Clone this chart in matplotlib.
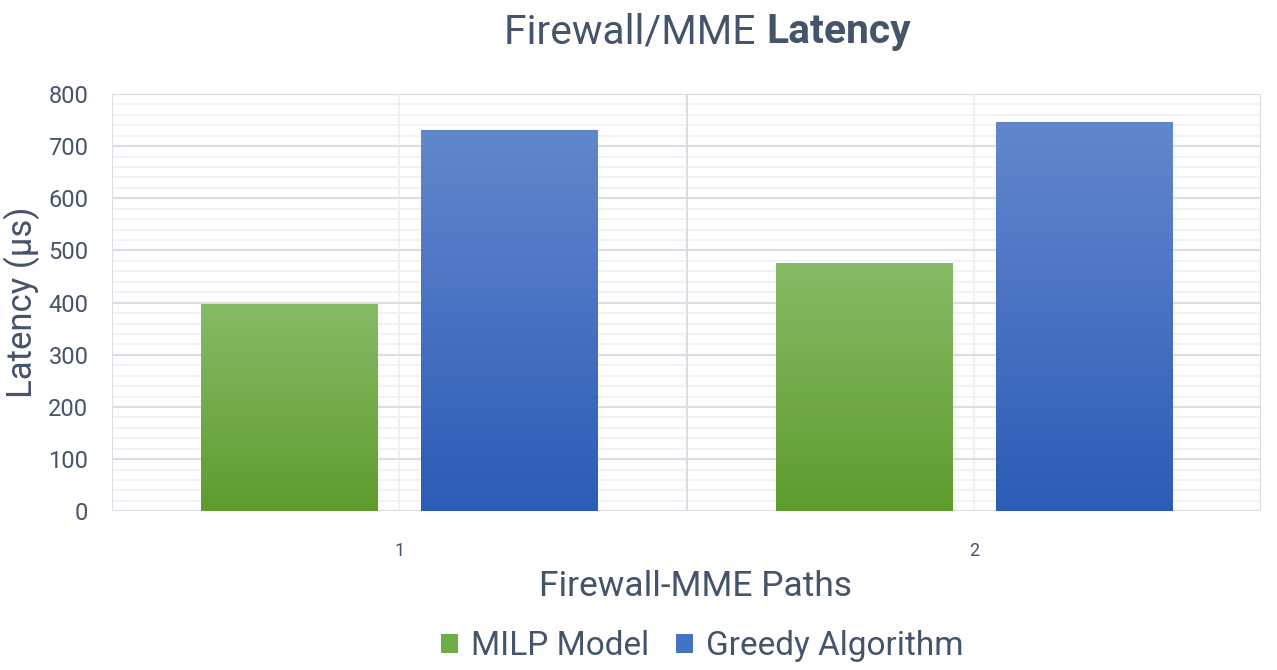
import matplotlib
matplotlib.use("Agg")
import matplotlib.pyplot as plt
import numpy as np
from matplotlib.colors import LinearSegmentedColormap
from matplotlib.patches import Patch

categories = ["1", "2"]
series_names = ["MILP Model", "Greedy Algorithm"]
milp_values = [397, 476]
greedy_values = [731, 746]
y_ticks = [0, 100, 200, 300, 400, 500, 600, 700, 800]

TXT = "#44546a"
MAJ = "#dadee4"
MIN = "#f0f1f3"
FONT = ["Roboto", "DejaVu Sans"]
plt.rcParams["font.family"] = FONT

fig = plt.figure(figsize=(12.77, 6.70), dpi=100)
ax = fig.add_axes([0.0877, 0.2369, 0.9875 - 0.0877, 0.8597 - 0.2369])

x = np.arange(1, len(categories) + 1)
width = 0.308
offsets = [-0.1906, 0.1923]
grads = [("#87bb66", "#5e9c2e"), ("#6387cd", "#2c5cb6")]

ax.set_xlim(0.5, len(categories) + 0.5)
ax.set_ylim(0, 800)

# gridlines
for yv in np.arange(20, 800, 20):
    if yv % 100 != 0:
        ax.axhline(yv, color=MIN, lw=1.3, zorder=0)
for yv in y_ticks:
    ax.axhline(yv, color=MAJ, lw=1.5, zorder=0.5)
for xv in x:
    ax.axvline(xv, color=MIN, lw=1.5, zorder=0)
for xv in np.arange(0.5, len(categories) + 1, 1.0):
    ax.axvline(xv, color=MAJ, lw=1.5, zorder=0.5)

for vals, off, (ctop, cbot), name in zip([milp_values, greedy_values], offsets, grads, series_names):
    bars = ax.bar(x + off, vals, width, color="none", edgecolor="none", zorder=2, label=name)
    cmap = LinearSegmentedColormap.from_list(name, [cbot, ctop])
    grad = np.linspace(0, 1, 256).reshape(-1, 1)
    for b in bars:
        x0, y0 = b.get_x(), b.get_y()
        im = ax.imshow(grad, cmap=cmap, origin="lower", aspect="auto",
                       extent=[x0, x0 + b.get_width(), y0, y0 + b.get_height()], zorder=2)
        im.set_clip_path(b)

ax.set_xlim(0.5, len(categories) + 0.5)
ax.set_ylim(0, 800)
ax.set_xticks(x)
ax.set_xticklabels(categories)
ax.set_yticks(y_ticks)
ax.minorticks_off()
ax.tick_params(axis="both", which="both", length=0, colors=TXT)
ax.tick_params(axis="y", labelsize=17, pad=17)
ax.tick_params(axis="x", labelsize=13, pad=22)
for s in ax.spines.values():
    s.set_visible(False)

fig.text(0.017, 0.549, "Latency (µs)", rotation=90, ha="center", va="center", fontsize=25, color=TXT)
fig.text(0.545, 0.125, "Firewall-MME Paths", ha="center", va="center", fontsize=25.5, color=TXT)

# title with regular + bold parts
renderer = fig.canvas.get_renderer()
t1 = fig.text(0, 0.952, "Firewall/MME ", fontsize=29.3, color=TXT, va="center", ha="left")
t2 = fig.text(0, 0.952, "Latency", fontsize=29.3, color=TXT, va="center", ha="left", fontweight="bold")
w1 = t1.get_window_extent(renderer).width / fig.bbox.width
w2 = t2.get_window_extent(renderer).width / fig.bbox.width
cx = 0.554
start = cx - (w1 + w2) / 2
t1.set_x(start)
t2.set_x(start + w1)

handles = [Patch(facecolor="#70ad47", edgecolor="none"), Patch(facecolor="#4472c4", edgecolor="none")]
leg = fig.legend(handles, series_names, loc="center", bbox_to_anchor=(0.55, 0.036), ncol=2,
                 frameon=False, fontsize=24, handlelength=0.5, handleheight=0.5,
                 handletextpad=0.4, columnspacing=0.8)
for t in leg.get_texts():
    t.set_color(TXT)

fig.savefig("out.png", dpi=100)
